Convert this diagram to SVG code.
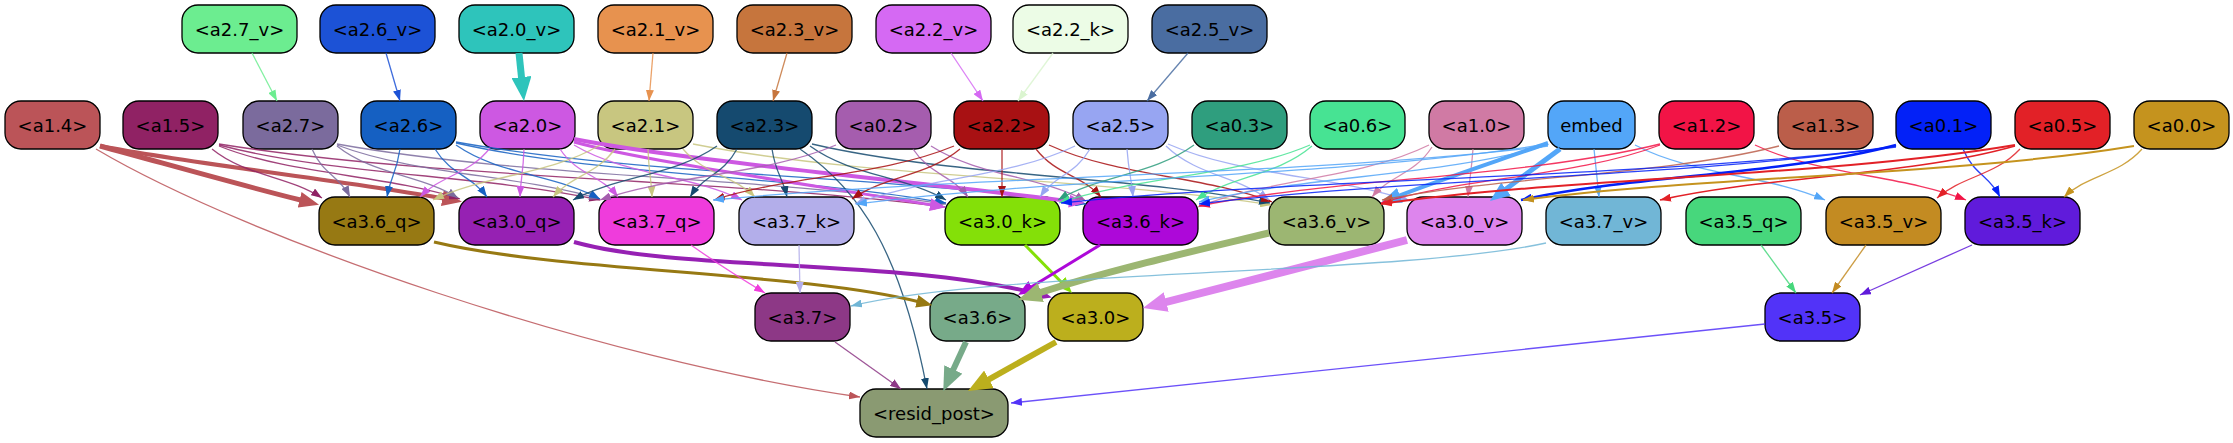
<svg xmlns="http://www.w3.org/2000/svg" width="2233" height="443" viewBox="0 0 2233 443">
<style>
.n rect{stroke:#000;stroke-width:1.3}
.n text{font-family:"DejaVu Sans","Liberation Sans",sans-serif;font-size:18px;text-anchor:middle;fill:#000}
#connectors path{fill:none}
.t{stroke-width:1.3;stroke-opacity:.85}
</style>
<defs>
<marker id="s-a27v" viewBox="0 0 11 8" refX="11" refY="4" markerWidth="11" markerHeight="8" markerUnits="userSpaceOnUse" orient="auto"><path d="M0,0L11,4L0,8z" fill="#6ced90"/></marker>
<marker id="s-a26v" viewBox="0 0 11 8" refX="11" refY="4" markerWidth="11" markerHeight="8" markerUnits="userSpaceOnUse" orient="auto"><path d="M0,0L11,4L0,8z" fill="#1c52d6"/></marker>
<marker id="s-a21v" viewBox="0 0 11 8" refX="11" refY="4" markerWidth="11" markerHeight="8" markerUnits="userSpaceOnUse" orient="auto"><path d="M0,0L11,4L0,8z" fill="#e7924f"/></marker>
<marker id="s-a23v" viewBox="0 0 11 8" refX="11" refY="4" markerWidth="11" markerHeight="8" markerUnits="userSpaceOnUse" orient="auto"><path d="M0,0L11,4L0,8z" fill="#c6753d"/></marker>
<marker id="s-a22v" viewBox="0 0 11 8" refX="11" refY="4" markerWidth="11" markerHeight="8" markerUnits="userSpaceOnUse" orient="auto"><path d="M0,0L11,4L0,8z" fill="#d569f3"/></marker>
<marker id="s-a22k" viewBox="0 0 11 8" refX="11" refY="4" markerWidth="11" markerHeight="8" markerUnits="userSpaceOnUse" orient="auto"><path d="M0,0L11,4L0,8z" fill="#dbf5d0"/></marker>
<marker id="s-a25v" viewBox="0 0 11 8" refX="11" refY="4" markerWidth="11" markerHeight="8" markerUnits="userSpaceOnUse" orient="auto"><path d="M0,0L11,4L0,8z" fill="#4a6da1"/></marker>
<marker id="s-a14" viewBox="0 0 11 8" refX="11" refY="4" markerWidth="11" markerHeight="8" markerUnits="userSpaceOnUse" orient="auto"><path d="M0,0L11,4L0,8z" fill="#bb5458"/></marker>
<marker id="s-a15" viewBox="0 0 11 8" refX="11" refY="4" markerWidth="11" markerHeight="8" markerUnits="userSpaceOnUse" orient="auto"><path d="M0,0L11,4L0,8z" fill="#902264"/></marker>
<marker id="s-a27" viewBox="0 0 11 8" refX="11" refY="4" markerWidth="11" markerHeight="8" markerUnits="userSpaceOnUse" orient="auto"><path d="M0,0L11,4L0,8z" fill="#7b6b9d"/></marker>
<marker id="s-a26" viewBox="0 0 11 8" refX="11" refY="4" markerWidth="11" markerHeight="8" markerUnits="userSpaceOnUse" orient="auto"><path d="M0,0L11,4L0,8z" fill="#1560c2"/></marker>
<marker id="s-a20" viewBox="0 0 11 8" refX="11" refY="4" markerWidth="11" markerHeight="8" markerUnits="userSpaceOnUse" orient="auto"><path d="M0,0L11,4L0,8z" fill="#cd58e2"/></marker>
<marker id="s-a21" viewBox="0 0 11 8" refX="11" refY="4" markerWidth="11" markerHeight="8" markerUnits="userSpaceOnUse" orient="auto"><path d="M0,0L11,4L0,8z" fill="#c8c680"/></marker>
<marker id="s-a23" viewBox="0 0 11 8" refX="11" refY="4" markerWidth="11" markerHeight="8" markerUnits="userSpaceOnUse" orient="auto"><path d="M0,0L11,4L0,8z" fill="#154a6f"/></marker>
<marker id="s-a02" viewBox="0 0 11 8" refX="11" refY="4" markerWidth="11" markerHeight="8" markerUnits="userSpaceOnUse" orient="auto"><path d="M0,0L11,4L0,8z" fill="#a55dae"/></marker>
<marker id="s-a22" viewBox="0 0 11 8" refX="11" refY="4" markerWidth="11" markerHeight="8" markerUnits="userSpaceOnUse" orient="auto"><path d="M0,0L11,4L0,8z" fill="#a81113"/></marker>
<marker id="s-a25" viewBox="0 0 11 8" refX="11" refY="4" markerWidth="11" markerHeight="8" markerUnits="userSpaceOnUse" orient="auto"><path d="M0,0L11,4L0,8z" fill="#97a5f2"/></marker>
<marker id="s-a03" viewBox="0 0 11 8" refX="11" refY="4" markerWidth="11" markerHeight="8" markerUnits="userSpaceOnUse" orient="auto"><path d="M0,0L11,4L0,8z" fill="#2f9e7e"/></marker>
<marker id="s-a06" viewBox="0 0 11 8" refX="11" refY="4" markerWidth="11" markerHeight="8" markerUnits="userSpaceOnUse" orient="auto"><path d="M0,0L11,4L0,8z" fill="#47e393"/></marker>
<marker id="s-a10" viewBox="0 0 11 8" refX="11" refY="4" markerWidth="11" markerHeight="8" markerUnits="userSpaceOnUse" orient="auto"><path d="M0,0L11,4L0,8z" fill="#d07aa4"/></marker>
<marker id="s-emb" viewBox="0 0 11 8" refX="11" refY="4" markerWidth="11" markerHeight="8" markerUnits="userSpaceOnUse" orient="auto"><path d="M0,0L11,4L0,8z" fill="#53a6f8"/></marker>
<marker id="s-a12" viewBox="0 0 11 8" refX="11" refY="4" markerWidth="11" markerHeight="8" markerUnits="userSpaceOnUse" orient="auto"><path d="M0,0L11,4L0,8z" fill="#f21446"/></marker>
<marker id="s-a13" viewBox="0 0 11 8" refX="11" refY="4" markerWidth="11" markerHeight="8" markerUnits="userSpaceOnUse" orient="auto"><path d="M0,0L11,4L0,8z" fill="#bb5e4a"/></marker>
<marker id="s-a01" viewBox="0 0 11 8" refX="11" refY="4" markerWidth="11" markerHeight="8" markerUnits="userSpaceOnUse" orient="auto"><path d="M0,0L11,4L0,8z" fill="#0321f7"/></marker>
<marker id="s-a05" viewBox="0 0 11 8" refX="11" refY="4" markerWidth="11" markerHeight="8" markerUnits="userSpaceOnUse" orient="auto"><path d="M0,0L11,4L0,8z" fill="#e22127"/></marker>
<marker id="s-a00" viewBox="0 0 11 8" refX="11" refY="4" markerWidth="11" markerHeight="8" markerUnits="userSpaceOnUse" orient="auto"><path d="M0,0L11,4L0,8z" fill="#c5931e"/></marker>
<marker id="s-a37q" viewBox="0 0 11 8" refX="11" refY="4" markerWidth="11" markerHeight="8" markerUnits="userSpaceOnUse" orient="auto"><path d="M0,0L11,4L0,8z" fill="#ef3cdc"/></marker>
<marker id="s-a37k" viewBox="0 0 11 8" refX="11" refY="4" markerWidth="11" markerHeight="8" markerUnits="userSpaceOnUse" orient="auto"><path d="M0,0L11,4L0,8z" fill="#b3aeea"/></marker>
<marker id="s-a37v" viewBox="0 0 11 8" refX="11" refY="4" markerWidth="11" markerHeight="8" markerUnits="userSpaceOnUse" orient="auto"><path d="M0,0L11,4L0,8z" fill="#71b6d6"/></marker>
<marker id="s-a35q" viewBox="0 0 11 8" refX="11" refY="4" markerWidth="11" markerHeight="8" markerUnits="userSpaceOnUse" orient="auto"><path d="M0,0L11,4L0,8z" fill="#47d77c"/></marker>
<marker id="s-a35v" viewBox="0 0 11 8" refX="11" refY="4" markerWidth="11" markerHeight="8" markerUnits="userSpaceOnUse" orient="auto"><path d="M0,0L11,4L0,8z" fill="#c38b22"/></marker>
<marker id="s-a35k" viewBox="0 0 11 8" refX="11" refY="4" markerWidth="11" markerHeight="8" markerUnits="userSpaceOnUse" orient="auto"><path d="M0,0L11,4L0,8z" fill="#601bdb"/></marker>
<marker id="s-a37" viewBox="0 0 11 8" refX="11" refY="4" markerWidth="11" markerHeight="8" markerUnits="userSpaceOnUse" orient="auto"><path d="M0,0L11,4L0,8z" fill="#8d3886"/></marker>
<marker id="s-a35" viewBox="0 0 11 8" refX="11" refY="4" markerWidth="11" markerHeight="8" markerUnits="userSpaceOnUse" orient="auto"><path d="M0,0L11,4L0,8z" fill="#5233f8"/></marker>
<marker id="b-a20v" viewBox="0 0 24 20" refX="2" refY="10" markerWidth="24" markerHeight="20" markerUnits="userSpaceOnUse" orient="auto"><path d="M0,0L24,10L0,20z" fill="#2ec4bb"/></marker>
<marker id="b-a36v" viewBox="0 0 24 20" refX="2" refY="10" markerWidth="24" markerHeight="20" markerUnits="userSpaceOnUse" orient="auto"><path d="M0,0L24,10L0,20z" fill="#9cb672"/></marker>
<marker id="b-a30v" viewBox="0 0 24 20" refX="2" refY="10" markerWidth="24" markerHeight="20" markerUnits="userSpaceOnUse" orient="auto"><path d="M0,0L24,10L0,20z" fill="#dd85ed"/></marker>
<marker id="b-a36" viewBox="0 0 24 20" refX="2" refY="10" markerWidth="24" markerHeight="20" markerUnits="userSpaceOnUse" orient="auto"><path d="M0,0L24,10L0,20z" fill="#77aa89"/></marker>
<marker id="b-a30" viewBox="0 0 24 20" refX="2" refY="10" markerWidth="24" markerHeight="20" markerUnits="userSpaceOnUse" orient="auto"><path d="M0,0L24,10L0,20z" fill="#bcaf1d"/></marker>
<marker id="l-a14" viewBox="0 0 20 16" refX="2" refY="8" markerWidth="20" markerHeight="16" markerUnits="userSpaceOnUse" orient="auto"><path d="M0,0L20,8L0,16z" fill="#bb5458"/></marker>
<marker id="l-emb" viewBox="0 0 20 16" refX="2" refY="8" markerWidth="20" markerHeight="16" markerUnits="userSpaceOnUse" orient="auto"><path d="M0,0L20,8L0,16z" fill="#53a6f8"/></marker>
<marker id="m-a20" viewBox="0 0 16 13" refX="2" refY="6.5" markerWidth="16" markerHeight="13" markerUnits="userSpaceOnUse" orient="auto"><path d="M0,0L16,6.5L0,13z" fill="#cd58e2"/></marker>
<marker id="m-a36q" viewBox="0 0 16 13" refX="2" refY="6.5" markerWidth="16" markerHeight="13" markerUnits="userSpaceOnUse" orient="auto"><path d="M0,0L16,6.5L0,13z" fill="#977913"/></marker>
<marker id="m-a30q" viewBox="0 0 16 13" refX="2" refY="6.5" markerWidth="16" markerHeight="13" markerUnits="userSpaceOnUse" orient="auto"><path d="M0,0L16,6.5L0,13z" fill="#9621b3"/></marker>
<marker id="m-a30k" viewBox="0 0 16 13" refX="2" refY="6.5" markerWidth="16" markerHeight="13" markerUnits="userSpaceOnUse" orient="auto"><path d="M0,0L16,6.5L0,13z" fill="#84e008"/></marker>
<marker id="m-a36k" viewBox="0 0 16 13" refX="2" refY="6.5" markerWidth="16" markerHeight="13" markerUnits="userSpaceOnUse" orient="auto"><path d="M0,0L16,6.5L0,13z" fill="#ad08d9"/></marker>
</defs>
<rect width="2233" height="443" fill="#fff"/>

<g id="nodes">
<g id="node-a2_7_v" class="n"><rect x="182" y="5" width="115" height="48" rx="16" fill="#6ced90"/><text x="239.5" y="35.5">&lt;a2.7_v&gt;</text></g>
<g id="node-a2_6_v" class="n"><rect x="320" y="5" width="115" height="48" rx="16" fill="#1c52d6"/><text x="377.5" y="35.5">&lt;a2.6_v&gt;</text></g>
<g id="node-a2_0_v" class="n"><rect x="459" y="5" width="115" height="48" rx="16" fill="#2ec4bb"/><text x="516.5" y="35.5">&lt;a2.0_v&gt;</text></g>
<g id="node-a2_1_v" class="n"><rect x="598" y="5" width="115" height="48" rx="16" fill="#e7924f"/><text x="655.5" y="35.5">&lt;a2.1_v&gt;</text></g>
<g id="node-a2_3_v" class="n"><rect x="737" y="5" width="115" height="48" rx="16" fill="#c6753d"/><text x="794.5" y="35.5">&lt;a2.3_v&gt;</text></g>
<g id="node-a2_2_v" class="n"><rect x="876" y="5" width="115" height="48" rx="16" fill="#d569f3"/><text x="933.5" y="35.5">&lt;a2.2_v&gt;</text></g>
<g id="node-a2_2_k" class="n"><rect x="1013" y="5" width="115" height="48" rx="16" fill="#ecfce6"/><text x="1070.5" y="35.5">&lt;a2.2_k&gt;</text></g>
<g id="node-a2_5_v" class="n"><rect x="1152" y="5" width="115" height="48" rx="16" fill="#4a6da1"/><text x="1209.5" y="35.5">&lt;a2.5_v&gt;</text></g>

<g id="node-a1_4" class="n"><rect x="5" y="101" width="95" height="48" rx="16" fill="#bb5458"/><text x="52.5" y="131.5">&lt;a1.4&gt;</text></g>
<g id="node-a1_5" class="n"><rect x="123" y="101" width="95" height="48" rx="16" fill="#902264"/><text x="170.5" y="131.5">&lt;a1.5&gt;</text></g>
<g id="node-a2_7" class="n"><rect x="243" y="101" width="95" height="48" rx="16" fill="#7b6b9d"/><text x="290.5" y="131.5">&lt;a2.7&gt;</text></g>
<g id="node-a2_6" class="n"><rect x="361" y="101" width="95" height="48" rx="16" fill="#1560c2"/><text x="408.5" y="131.5">&lt;a2.6&gt;</text></g>
<g id="node-a2_0" class="n"><rect x="480" y="101" width="95" height="48" rx="16" fill="#cd58e2"/><text x="527.5" y="131.5">&lt;a2.0&gt;</text></g>
<g id="node-a2_1" class="n"><rect x="598" y="101" width="95" height="48" rx="16" fill="#c8c680"/><text x="645.5" y="131.5">&lt;a2.1&gt;</text></g>
<g id="node-a2_3" class="n"><rect x="717" y="101" width="95" height="48" rx="16" fill="#154a6f"/><text x="764.5" y="131.5">&lt;a2.3&gt;</text></g>
<g id="node-a0_2" class="n"><rect x="836" y="101" width="95" height="48" rx="16" fill="#a55dae"/><text x="883.5" y="131.5">&lt;a0.2&gt;</text></g>
<g id="node-a2_2" class="n"><rect x="954" y="101" width="95" height="48" rx="16" fill="#a81113"/><text x="1001.5" y="131.5">&lt;a2.2&gt;</text></g>
<g id="node-a2_5" class="n"><rect x="1073" y="101" width="95" height="48" rx="16" fill="#97a5f2"/><text x="1120.5" y="131.5">&lt;a2.5&gt;</text></g>
<g id="node-a0_3" class="n"><rect x="1192" y="101" width="95" height="48" rx="16" fill="#2f9e7e"/><text x="1239.5" y="131.5">&lt;a0.3&gt;</text></g>
<g id="node-a0_6" class="n"><rect x="1310" y="101" width="95" height="48" rx="16" fill="#47e393"/><text x="1357.5" y="131.5">&lt;a0.6&gt;</text></g>
<g id="node-a1_0" class="n"><rect x="1429" y="101" width="95" height="48" rx="16" fill="#d07aa4"/><text x="1476.5" y="131.5">&lt;a1.0&gt;</text></g>
<g id="node-embed" class="n"><rect x="1548" y="101" width="87" height="48" rx="16" fill="#53a6f8"/><text x="1591.5" y="131.5">embed</text></g>
<g id="node-a1_2" class="n"><rect x="1659" y="101" width="95" height="48" rx="16" fill="#f21446"/><text x="1706.5" y="131.5">&lt;a1.2&gt;</text></g>
<g id="node-a1_3" class="n"><rect x="1778" y="101" width="95" height="48" rx="16" fill="#bb5e4a"/><text x="1825.5" y="131.5">&lt;a1.3&gt;</text></g>
<g id="node-a0_1" class="n"><rect x="1896" y="101" width="95" height="48" rx="16" fill="#0321f7"/><text x="1943.5" y="131.5">&lt;a0.1&gt;</text></g>
<g id="node-a0_5" class="n"><rect x="2015" y="101" width="95" height="48" rx="16" fill="#e22127"/><text x="2062.5" y="131.5">&lt;a0.5&gt;</text></g>
<g id="node-a0_0" class="n"><rect x="2134" y="101" width="95" height="48" rx="16" fill="#c5931e"/><text x="2181.5" y="131.5">&lt;a0.0&gt;</text></g>

<g id="node-a3_6_q" class="n"><rect x="319" y="197" width="115" height="48" rx="16" fill="#977913"/><text x="376.5" y="227.5">&lt;a3.6_q&gt;</text></g>
<g id="node-a3_0_q" class="n"><rect x="459" y="197" width="115" height="48" rx="16" fill="#9621b3"/><text x="516.5" y="227.5">&lt;a3.0_q&gt;</text></g>
<g id="node-a3_7_q" class="n"><rect x="599" y="197" width="115" height="48" rx="16" fill="#ef3cdc"/><text x="656.5" y="227.5">&lt;a3.7_q&gt;</text></g>
<g id="node-a3_7_k" class="n"><rect x="739" y="197" width="115" height="48" rx="16" fill="#b3aeea"/><text x="796.5" y="227.5">&lt;a3.7_k&gt;</text></g>
<g id="node-a3_0_k" class="n"><rect x="945" y="197" width="115" height="48" rx="16" fill="#84e008"/><text x="1002.5" y="227.5">&lt;a3.0_k&gt;</text></g>
<g id="node-a3_6_k" class="n"><rect x="1083" y="197" width="115" height="48" rx="16" fill="#ad08d9"/><text x="1140.5" y="227.5">&lt;a3.6_k&gt;</text></g>
<g id="node-a3_6_v" class="n"><rect x="1269" y="197" width="115" height="48" rx="16" fill="#9cb672"/><text x="1326.5" y="227.5">&lt;a3.6_v&gt;</text></g>
<g id="node-a3_0_v" class="n"><rect x="1407" y="197" width="115" height="48" rx="16" fill="#dd85ed"/><text x="1464.5" y="227.5">&lt;a3.0_v&gt;</text></g>
<g id="node-a3_7_v" class="n"><rect x="1546" y="197" width="115" height="48" rx="16" fill="#71b6d6"/><text x="1603.5" y="227.5">&lt;a3.7_v&gt;</text></g>
<g id="node-a3_5_q" class="n"><rect x="1686" y="197" width="115" height="48" rx="16" fill="#47d77c"/><text x="1743.5" y="227.5">&lt;a3.5_q&gt;</text></g>
<g id="node-a3_5_v" class="n"><rect x="1826" y="197" width="115" height="48" rx="16" fill="#c38b22"/><text x="1883.5" y="227.5">&lt;a3.5_v&gt;</text></g>
<g id="node-a3_5_k" class="n"><rect x="1965" y="197" width="115" height="48" rx="16" fill="#601bdb"/><text x="2022.5" y="227.5">&lt;a3.5_k&gt;</text></g>

<g id="node-a3_7" class="n"><rect x="755" y="293" width="95" height="48" rx="16" fill="#8d3886"/><text x="802.5" y="323.5">&lt;a3.7&gt;</text></g>
<g id="node-a3_6" class="n"><rect x="930" y="293" width="95" height="48" rx="16" fill="#77aa89"/><text x="977.5" y="323.5">&lt;a3.6&gt;</text></g>
<g id="node-a3_0" class="n"><rect x="1048" y="293" width="95" height="48" rx="16" fill="#bcaf1d"/><text x="1095.5" y="323.5">&lt;a3.0&gt;</text></g>
<g id="node-a3_5" class="n"><rect x="1765" y="293" width="95" height="48" rx="16" fill="#5233f8"/><text x="1812.5" y="323.5">&lt;a3.5&gt;</text></g>

<g id="node-resid_post" class="n"><rect x="860" y="389" width="148" height="48" rx="16" fill="#8a9a72"/><text x="934" y="419.5">&lt;resid_post&gt;</text></g>
</g>

<g id="connectors">
<path class="t" stroke="#6ced90" marker-end="url(#s-a27v)" d="M252 53 L277 101"/>
<path class="t" stroke="#1c52d6" marker-end="url(#s-a26v)" d="M386 53 L400 101"/>
<path stroke="#2ec4bb" stroke-width="7" marker-end="url(#b-a20v)" d="M519 53 L521.7 79.1"/>
<path class="t" stroke="#e7924f" marker-end="url(#s-a21v)" d="M653 53 L649 101"/>
<path class="t" stroke="#c6753d" marker-end="url(#s-a23v)" d="M787 53 L773 101"/>
<path class="t" stroke="#d569f3" marker-end="url(#s-a22v)" d="M951 53 L983 101"/>
<path class="t" stroke="#dbf5d0" marker-end="url(#s-a22k)" d="M1053 53 L1018 101"/>
<path class="t" stroke="#4a6da1" marker-end="url(#s-a25v)" d="M1188 53 L1147 101"/>

<path stroke="#bb5458" stroke-width="5" marker-end="url(#l-a14)" d="M100 146 C170 165 240 185 301.6 200.3"/>
<path stroke="#bb5458" stroke-width="4" marker-end="url(#l-a14)" d="M100 146 C200 165 340 180 444.3 198.5"/>
<path class="t" stroke="#bb5458" marker-end="url(#s-a14)" d="M96 149 C250 240 600 360 860 397"/>

<path class="t" stroke="#902264" marker-end="url(#s-a15)" d="M212 149 C245 176 289 176 322 198"/>
<path class="t" stroke="#902264" marker-end="url(#s-a15)" d="M219 146 C291 175 388 175 460 199"/>
<path class="t" stroke="#902264" marker-end="url(#s-a15)" d="M219 145 C333 175 486 175 600 200"/>
<path class="t" stroke="#902264" marker-end="url(#s-a15)" d="M219 144 C437 179 727 179 945 207"/>

<path class="t" stroke="#7b6b9d" marker-end="url(#s-a27)" d="M312 149 C323 175 339 175 350 197"/>
<path class="t" stroke="#7b6b9d" marker-end="url(#s-a27)" d="M337 146 C373 175 422 175 458 198"/>
<path class="t" stroke="#7b6b9d" marker-end="url(#s-a27)" d="M337 145 C416 175 521 175 600 199"/>
<path class="t" stroke="#7b6b9d" marker-end="url(#s-a27)" d="M337 144 C520 177 763 177 946 204"/>

<path class="t" stroke="#1560c2" marker-end="url(#s-a26)" d="M400 149 C396 175 391 175 387 197"/>
<path class="t" stroke="#1560c2" marker-end="url(#s-a26)" d="M435 149 C451 175 471 175 487 197"/>
<path class="t" stroke="#1560c2" marker-end="url(#s-a26)" d="M456 145 C499 175 557 175 600 199"/>
<path class="t" stroke="#1560c2" marker-end="url(#s-a26)" d="M456 143 C603 176 799 176 946 203"/>
<path class="t" stroke="#1560c2" marker-end="url(#s-a26)" d="M456 142 C645 176 897 176 1086 204"/>

<path class="t" stroke="#cd58e2" marker-end="url(#s-a20)" d="M490 148 C469 175 441 175 420 197"/>
<path class="t" stroke="#cd58e2" marker-end="url(#s-a20)" d="M524 149 C523 175 521 175 520 197"/>
<path class="t" stroke="#cd58e2" marker-end="url(#s-a20)" d="M560 149 C577 175 601 175 618 197"/>
<path class="t" stroke="#cd58e2" marker-end="url(#s-a20)" d="M574 145 C624 175 692 175 742 200"/>
<path stroke="#cd58e2" stroke-width="3" marker-end="url(#m-a20)" d="M574 142 C640 160 780 180 932 205"/>
<path stroke="#cd58e2" stroke-width="4" marker-end="url(#m-a20)" d="M574 139 C680 160 900 180 1071 201.3"/>

<path class="t" stroke="#c8c680" marker-end="url(#s-a21)" d="M600 145 C550 175 483 175 433 200"/>
<path class="t" stroke="#c8c680" marker-end="url(#s-a21)" d="M615 149 C596 175 572 175 553 197"/>
<path class="t" stroke="#c8c680" marker-end="url(#s-a21)" d="M648 149 C649 175 651 175 652 197"/>
<path class="t" stroke="#c8c680" marker-end="url(#s-a21)" d="M683 149 C705 175 733 175 755 197"/>
<path class="t" stroke="#c8c680" marker-end="url(#s-a21)" d="M693 144 C866 178 1098 178 1271 205"/>

<path class="t" stroke="#154a6f" marker-end="url(#s-a23)" d="M717 146 C674 176 616 176 573 200"/>
<path class="t" stroke="#154a6f" marker-end="url(#s-a23)" d="M737 149 C723 175 704 175 690 197"/>
<path class="t" stroke="#154a6f" marker-end="url(#s-a23)" d="M772 149 C776 175 782 175 787 197"/>
<path class="t" stroke="#154a6f" marker-end="url(#s-a23)" d="M810 146 C851 176 905 176 946 200"/>
<path class="t" stroke="#154a6f" marker-end="url(#s-a23)" d="M812 144 C949 176 1133 176 1270 203"/>
<path class="t" stroke="#154a6f" marker-end="url(#s-a23)" d="M800 149 C860 190 900 250 927 389"/>

<path class="t" stroke="#a55dae" marker-end="url(#s-a02)" d="M836 145 C765 175 671 175 600 200"/>
<path class="t" stroke="#a55dae" marker-end="url(#s-a02)" d="M913 149 C930 175 952 175 968 197"/>
<path class="t" stroke="#a55dae" marker-end="url(#s-a02)" d="M931 146 C978 176 1040 176 1086 201"/>

<path class="t" stroke="#a81113" marker-end="url(#s-a22)" d="M954 146 C882 176 786 176 714 200"/>
<path class="t" stroke="#a81113" marker-end="url(#s-a22)" d="M960 149 C928 176 884 176 852 199"/>
<path class="t" stroke="#a81113" stroke-opacity=".5" marker-end="url(#s-a22)" d="M1002 149 L1002 197"/>
<path class="t" stroke="#a81113" marker-end="url(#s-a22)" d="M1036 149 C1056 175 1082 175 1101 197"/>
<path class="t" stroke="#a81113" marker-end="url(#s-a22)" d="M1049 145 C1116 176 1205 176 1272 202"/>

<path class="t" stroke="#97a5f2" marker-end="url(#s-a25)" d="M1075 146 C1009 178 921 178 855 204"/>
<path class="t" stroke="#97a5f2" marker-end="url(#s-a25)" d="M1090 149 C1075 175 1055 175 1040 197"/>
<path class="t" stroke="#97a5f2" marker-end="url(#s-a25)" d="M1127 149 C1129 175 1131 175 1133 197"/>
<path class="t" stroke="#97a5f2" marker-end="url(#s-a25)" d="M1166 146 C1197 176 1238 176 1269 200"/>
<path class="t" stroke="#97a5f2" marker-end="url(#s-a25)" d="M1168 144 C1241 176 1337 176 1410 201"/>

<path class="t" stroke="#2f9e7e" marker-end="url(#s-a03)" d="M1194 145 C1153 175 1099 175 1058 200"/>

<path class="t" stroke="#47e393" marker-end="url(#s-a06)" d="M1312 146 C1277 176 1231 176 1196 200"/>
<path class="t" stroke="#47e393" marker-end="url(#s-a06)" d="M1310 145 C1235 177 1134 177 1059 203"/>

<path class="t" stroke="#d07aa4" marker-end="url(#s-a10)" d="M1432 147 C1414 175 1390 175 1372 197"/>
<path class="t" stroke="#d07aa4" marker-end="url(#s-a10)" d="M1473 149 C1471 175 1470 175 1468 197"/>
<path class="t" stroke="#d07aa4" marker-end="url(#s-a10)" d="M1429 145 C1360 179 1267 179 1198 207"/>

<path stroke="#53a6f8" stroke-width="4" marker-end="url(#l-emb)" d="M1548 143 C1500 160 1440 180 1398 196.1"/>
<path stroke="#53a6f8" stroke-width="5" marker-end="url(#l-emb)" d="M1560 149 L1504.4 190.2"/>
<path class="t" stroke="#53a6f8" marker-end="url(#s-emb)" d="M1594 149 L1599 197"/>
<path class="t" stroke="#53a6f8" marker-end="url(#s-emb)" d="M1635 145 C1692 175 1768 175 1825 200"/>
<path class="t" stroke="#53a6f8" marker-end="url(#s-emb)" d="M1548 144 C1340 177 1064 177 856 204"/>
<path class="t" stroke="#53a6f8" marker-end="url(#s-emb)" d="M1548 145 C1443 176 1304 176 1199 202"/>
<path class="t" stroke="#53a6f8" marker-end="url(#s-emb)" d="M1548 146 C1298 176 964 176 713 200"/>

<path class="t" stroke="#f21446" marker-end="url(#s-a12)" d="M1755 145 C1818 175 1903 175 1966 200"/>
<path class="t" stroke="#f21446" marker-end="url(#s-a12)" d="M1660 145 C1576 177 1465 177 1381 203"/>
<path class="t" stroke="#f21446" marker-end="url(#s-a12)" d="M1660 144 C1522 178 1337 178 1199 206"/>

<path class="t" stroke="#bb5e4a" marker-end="url(#s-a13)" d="M1779 146 C1660 176 1501 176 1382 200"/>

<path class="t" stroke="#0321f7" marker-end="url(#s-a01)" d="M1963 149 C1974 175 1989 175 2000 197"/>
<path stroke="#0321f7" stroke-width="2.5" marker-end="url(#s-a01)" d="M1896 145 C1784 175 1634 175 1521 200"/>
<path class="t" stroke="#0321f7" marker-end="url(#s-a01)" d="M1896 146 C1687 178 1408 178 1199 204"/>
<path class="t" stroke="#0321f7" marker-end="url(#s-a01)" d="M1896 147 C1646 178 1312 178 1061 203"/>

<path class="t" stroke="#e22127" marker-end="url(#s-a05)" d="M2020 149 C1995 176 1962 176 1937 198"/>
<path stroke="#e22127" stroke-width="1.5" marker-end="url(#s-a05)" d="M2015 146 C1909 176 1767 176 1660 200"/>
<path stroke="#e22127" stroke-width="2" marker-end="url(#s-a05)" d="M2015 145 C1825 177 1571 177 1381 204"/>

<path class="t" stroke="#c5931e" marker-end="url(#s-a00)" d="M2142 149 C2119 175 2087 175 2064 197"/>
<path stroke="#c5931e" stroke-width="2" marker-end="url(#s-a00)" d="M2134 146 C1951 176 1706 176 1523 200"/>

<path stroke="#977913" stroke-width="3" marker-end="url(#m-a36q)" d="M434 242 C560 272 800 272 918.7 301.8"/>
<path stroke="#9621b3" stroke-width="4" marker-end="url(#m-a30q)" d="M574 242 C680 272 900 258 1038.3 294"/>
<path class="t" stroke="#ef3cdc" marker-end="url(#s-a37q)" d="M691 245 C715 262 740 278 765 293"/>
<path class="t" stroke="#b3aeea" marker-end="url(#s-a37k)" d="M799 245 L800 293"/>
<path stroke="#84e008" stroke-width="3" marker-end="url(#m-a30k)" d="M1025 245 L1062.2 283"/>
<path stroke="#ad08d9" stroke-width="3" marker-end="url(#m-a36k)" d="M1100 245 L1030 287.7"/>
<path stroke="#9cb672" stroke-width="7" marker-end="url(#b-a36v)" d="M1269 233 C1190 252 1110 270 1038.9 293"/>
<path stroke="#dd85ed" stroke-width="8" marker-end="url(#b-a30v)" d="M1407 240 L1164.3 302.5"/>
<path class="t" stroke="#71b6d6" marker-end="url(#s-a37v)" d="M1546 243 C1400 275 1000 270 851 306"/>
<path class="t" stroke="#47d77c" marker-end="url(#s-a35q)" d="M1761 245 L1796 293"/>
<path class="t" stroke="#c38b22" marker-end="url(#s-a35v)" d="M1866 245 L1832 293"/>
<path class="t" stroke="#601bdb" marker-end="url(#s-a35k)" d="M1972 245 L1860 295"/>

<path class="t" stroke="#8d3886" marker-end="url(#s-a37)" d="M835 342 L901 389"/>
<path stroke="#77aa89" stroke-width="6" marker-end="url(#b-a36)" d="M966 342 L952.5 371.2"/>
<path stroke="#bcaf1d" stroke-width="6" marker-end="url(#b-a30)" d="M1056 342 L987.2 380.3"/>
<path class="t" stroke="#5233f8" marker-end="url(#s-a35)" d="M1765 324 L1011 403"/>
</g>
</svg>
